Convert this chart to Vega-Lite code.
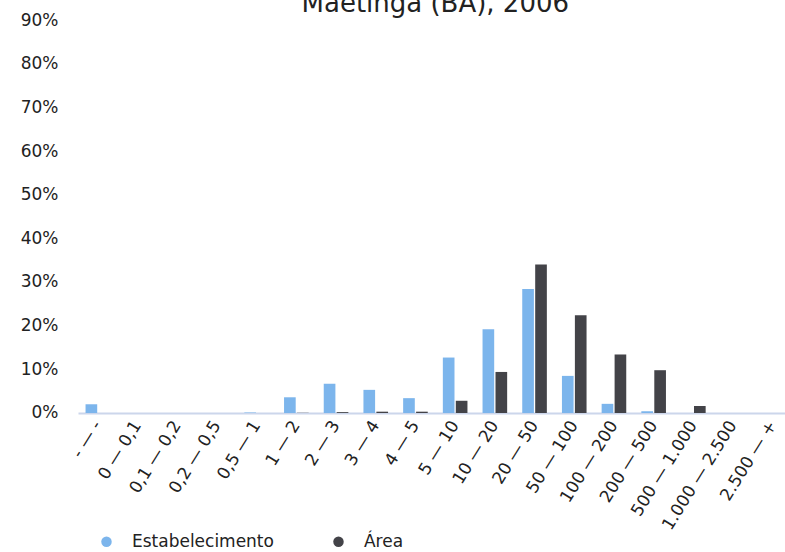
{
  "$schema": "https://vega.github.io/schema/vega-lite/v6.json",
  "autosize": {"type": "none"},
  "padding": {"left": 78, "top": 20, "right": 0, "bottom": 139},
  "width": 714.6,
  "height": 393,
  "background": "white",
  "title": {"text": "Maetinga (BA), 2006", "fontSize": 26, "font": "DejaVu Sans", "fontWeight": "normal", "color": "#222", "anchor": "middle", "offset": 4, "dy": 10},
  "config": {"font": "DejaVu Sans", "view": {"stroke": null}},
  "data": {"values": [
    {"classe": "- — -", "serie": "Estabelecimento", "valor": 0.020},
    {"classe": "- — -", "serie": "Área", "valor": 0.0},
    {"classe": "0 — 0,1", "serie": "Estabelecimento", "valor": 0.0},
    {"classe": "0 — 0,1", "serie": "Área", "valor": 0.0},
    {"classe": "0,1 — 0,2", "serie": "Estabelecimento", "valor": 0.0},
    {"classe": "0,1 — 0,2", "serie": "Área", "valor": 0.0},
    {"classe": "0,2 — 0,5", "serie": "Estabelecimento", "valor": 0.0},
    {"classe": "0,2 — 0,5", "serie": "Área", "valor": 0.0},
    {"classe": "0,5 — 1", "serie": "Estabelecimento", "valor": 0.001},
    {"classe": "0,5 — 1", "serie": "Área", "valor": 0.0},
    {"classe": "1 — 2", "serie": "Estabelecimento", "valor": 0.036},
    {"classe": "1 — 2", "serie": "Área", "valor": 0.0005},
    {"classe": "2 — 3", "serie": "Estabelecimento", "valor": 0.067},
    {"classe": "2 — 3", "serie": "Área", "valor": 0.002},
    {"classe": "3 — 4", "serie": "Estabelecimento", "valor": 0.053},
    {"classe": "3 — 4", "serie": "Área", "valor": 0.003},
    {"classe": "4 — 5", "serie": "Estabelecimento", "valor": 0.034},
    {"classe": "4 — 5", "serie": "Área", "valor": 0.003},
    {"classe": "5 — 10", "serie": "Estabelecimento", "valor": 0.127},
    {"classe": "5 — 10", "serie": "Área", "valor": 0.028},
    {"classe": "10 — 20", "serie": "Estabelecimento", "valor": 0.192},
    {"classe": "10 — 20", "serie": "Área", "valor": 0.094},
    {"classe": "20 — 50", "serie": "Estabelecimento", "valor": 0.284},
    {"classe": "20 — 50", "serie": "Área", "valor": 0.340},
    {"classe": "50 — 100", "serie": "Estabelecimento", "valor": 0.085},
    {"classe": "50 — 100", "serie": "Área", "valor": 0.224},
    {"classe": "100 — 200", "serie": "Estabelecimento", "valor": 0.021},
    {"classe": "100 — 200", "serie": "Área", "valor": 0.134},
    {"classe": "200 — 500", "serie": "Estabelecimento", "valor": 0.004},
    {"classe": "200 — 500", "serie": "Área", "valor": 0.098},
    {"classe": "500 — 1.000", "serie": "Estabelecimento", "valor": 0.0},
    {"classe": "500 — 1.000", "serie": "Área", "valor": 0.016},
    {"classe": "1.000 — 2.500", "serie": "Estabelecimento", "valor": 0.0},
    {"classe": "1.000 — 2.500", "serie": "Área", "valor": 0.0},
    {"classe": "2.500 — +", "serie": "Estabelecimento", "valor": 0.0},
    {"classe": "2.500 — +", "serie": "Área", "valor": 0.0}
  ]},
  "mark": {"type": "bar"},
  "encoding": {
    "x": {
      "field": "classe", "type": "nominal", "sort": null, "title": null,
      "scale": {"paddingInner": 0.38, "paddingOuter": 0.19},
      "axis": {"labelAngle": -58, "labelFontSize": 17, "labelColor": "#222", "ticks": false, "domainColor": "#ccd6eb", "domainWidth": 2, "labelPadding": 9, "labelOverlap": false}
    },
    "xOffset": {"field": "serie", "type": "nominal", "sort": ["Estabelecimento", "Área"], "scale": {"paddingInner": 0.1}},
    "y": {
      "field": "valor", "type": "quantitative", "title": null,
      "scale": {"domain": [0, 0.9], "nice": false},
      "axis": {"values": [0, 0.1, 0.2, 0.3, 0.4, 0.5, 0.6, 0.7, 0.8, 0.9], "format": ".0%", "grid": false, "domain": false, "ticks": false, "labelFontSize": 17, "labelColor": "#222", "labelPadding": 20}
    },
    "color": {
      "field": "serie", "type": "nominal", "sort": ["Estabelecimento", "Área"],
      "scale": {"domain": ["Estabelecimento", "Área"], "range": ["#7cb5ec", "#434348"]},
      "legend": {"title": null, "orient": "none", "legendX": 20, "legendY": 513, "direction": "horizontal", "symbolType": "circle", "symbolSize": 110, "symbolStrokeWidth": 0, "labelFontSize": 17, "labelColor": "#222", "labelOffset": 17, "columnPadding": 55}
    }
  }
}
